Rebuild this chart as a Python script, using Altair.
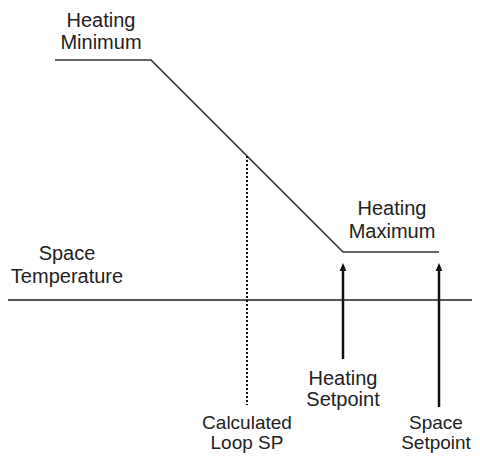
import altair as alt
import pandas as pd

# Setpoint curve (image-pixel coordinates used as abstract data units)
curve_x = [55, 151, 343, 439]
curve_y = [60, 60, 252, 252]

# Space temperature reference line
temp_x = [7]
temp_x2 = [480]
temp_y = [300]

# Calculated loop SP dotted marker
loop_x = [247]
loop_y = [156]
loop_y2 = [405]

# Arrows (shaft bottom, arrow tip)
arrow_x = [343, 439]
arrow_bottom = [359, 407]
arrow_tip = [267, 267]

# Labels (one row per text line)
label_text = ["Heating", "Minimum", "Heating", "Maximum", "Space", "Temperature",
              "Heating", "Setpoint", "Calculated", "Loop SP", "Space", "Setpoint"]
label_x = [101, 101, 392, 392, 67, 67, 343, 343, 247, 247, 436, 436]
label_y = [27, 49, 215, 238, 260, 283, 385, 406, 429, 449, 429, 449]
label_size = [20, 20, 20, 20, 20, 20, 20, 20, 19, 19, 19, 19]

W, H = 464, 446
xs = alt.Scale(domain=[8, 472], range=[0, W])
ys = alt.Scale(domain=[8, 454], range=[0, H])

curve_df = pd.DataFrame({"x": curve_x, "y": curve_y, "o": list(range(len(curve_x)))})
temp_df = pd.DataFrame({"x": temp_x, "x2": temp_x2, "y": temp_y})
loop_df = pd.DataFrame({"x": loop_x, "y": loop_y, "y2": loop_y2})
arrow_df = pd.DataFrame({"x": arrow_x, "y": arrow_bottom, "y2": arrow_tip})
label_df = pd.DataFrame({"t": label_text, "x": label_x, "y": label_y, "s": label_size})

X = lambda f: alt.X(f, type="quantitative", scale=xs, axis=None)
Y = lambda f: alt.Y(f, type="quantitative", scale=ys, axis=None)

curve = alt.Chart(curve_df).mark_line(color="#333333", strokeWidth=1.6).encode(
    x=X("x"), y=Y("y"), order="o:O")

temp = alt.Chart(temp_df).mark_rule(color="#555555", strokeWidth=2).encode(
    x=X("x"), x2="x2", y=Y("y"))

loop = alt.Chart(loop_df).mark_rule(color="#111111", strokeWidth=2, strokeDash=[2, 2]).encode(
    x=X("x"), y=Y("y"), y2="y2")

shaft = alt.Chart(arrow_df).mark_rule(color="#111111", strokeWidth=2.5).encode(
    x=X("x"), y=Y("y"), y2="y2")

head = alt.Chart(arrow_df).mark_point(
    shape="M0,-1L0.85,1L-0.85,1Z", size=64, filled=True, color="#111111", opacity=1
).encode(x=X("x"), y=Y("y2"))

labels = alt.Chart(label_df).mark_text(
    font="Liberation Sans", color="#222222", align="center", baseline="alphabetic"
).encode(x=X("x"), y=Y("y"), text="t:N",
         size=alt.Size("s:Q", scale=None, legend=None))

chart = alt.layer(curve, temp, loop, shaft, head, labels).properties(
    width=W, height=H, padding=0, autosize=alt.AutoSizeParams(type="none")
).configure_view(stroke=None)

chart.save("out.html", embed_options={"renderer": "svg", "actions": False})
